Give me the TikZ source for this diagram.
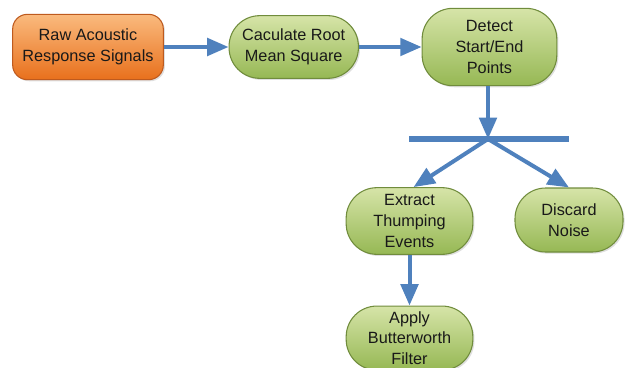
\documentclass[tikz,border=0pt]{standalone}
\usepackage{fontspec}
\setmainfont{Liberation Sans}
\usepackage{xcolor}
\usetikzlibrary{arrows.meta,positioning,shadows}
\definecolor{steporange}{RGB}{232,112,28}
\definecolor{steporangetop}{RGB}{250,186,126}
\definecolor{steporangeline}{RGB}{190,90,30}
\definecolor{stepgreen}{RGB}{150,184,84}
\definecolor{stepgreentop}{RGB}{214,228,168}
\definecolor{stepgreenline}{RGB}{112,140,60}
\definecolor{flowline}{RGB}{79,129,189}
\tikzset{
  inputbox/.style={
    rectangle,
    rounded corners=11pt,
    draw=steporangeline,
    thick,
    top color=steporangetop,
    bottom color=steporange,
    align=center,
    minimum width=113pt,
    minimum height=49pt,
    inner sep=2pt,
    text=black!90,
    font=\fontsize{12.2}{15.5}\selectfont,
    drop shadow={opacity=0.25,shadow xshift=1.2pt,shadow yshift=-1.2pt}
  },
  stepbox/.style={
    rectangle,
    rounded corners=23pt,
    draw=stepgreenline,
    thick,
    top color=stepgreentop,
    bottom color=stepgreen,
    align=center,
    minimum height=49pt,
    inner sep=2pt,
    text=black!90,
    font=\fontsize{12.2}{15.5}\selectfont,
    drop shadow={opacity=0.25,shadow xshift=1.2pt,shadow yshift=-1.2pt}
  },
  flowarrow/.style={
    -{Triangle[length=16pt,width=13pt]},
    line width=3pt,
    draw=flowline
  }
}

\begin{document}
\begin{tikzpicture}[x=0.75pt,y=-0.75pt,node distance=48pt and 48pt]
\useasboundingbox (0,0) rectangle (627,367);
\node[inputbox] (raw) at (88,47) {Raw Acoustic\\Response Signals};
\node[stepbox, minimum width=97pt, minimum height=47pt, right=48.5pt of raw] (rms) {Caculate Root\\Mean Square};
\node[stepbox, minimum width=101pt, minimum height=58pt, right=47pt of rms] (detect) {Detect\\Start/End\\Points};
\coordinate (split) at (488,139);
\coordinate (barleft) at (409,139);
\coordinate (barright) at (569,139);
\node[stepbox, minimum width=95pt, minimum height=50pt] (extract) at (409.5,221) {Extract\\Thumping\\Events};
\node[stepbox, minimum width=81pt, minimum height=48pt] (discard) at (569,220) {Discard\\Noise};
\node[stepbox, minimum width=95pt, minimum height=48pt, below=38pt of extract] (apply) {Apply\\Butterworth\\Filter};

\draw[flowline, line width=4.5pt] (barleft) -- (barright);
\draw[flowarrow] (raw) -- (rms);
\draw[flowarrow] (rms) -- (detect);
\draw[flowarrow] (detect.south -| split) -- (split);
\draw[flowarrow] (split) -- ([xshift=3pt]extract.north);
\draw[flowarrow] (split) -- (discard.north);
\draw[flowarrow] (extract) -- (apply);
\end{tikzpicture}
\end{document}
